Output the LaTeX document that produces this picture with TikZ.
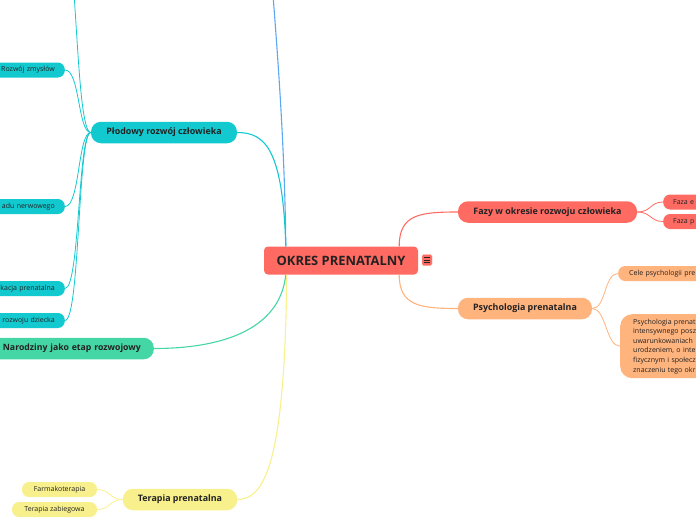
\documentclass[tikz,border=0pt]{standalone}
\usepackage{fontspec}
\setmainfont{Open Sans}
\usepackage{tikz}
\usetikzlibrary{positioning,calc}
\definecolor{rootred}{HTML}{FF6B63}
\definecolor{cyanbr}{HTML}{12C9CF}
\definecolor{bluebr}{HTML}{5AA7F2}
\definecolor{greenbr}{HTML}{45D6A6}
\definecolor{yellowbr}{HTML}{F8F08C}
\definecolor{orangebr}{HTML}{FFB37D}
\definecolor{inktext}{HTML}{222222}

\begin{document}
\begin{tikzpicture}[x=1pt, y=-1pt,
  root/.style={fill=rootred, rounded corners=4pt, minimum width=154pt, minimum height=28pt, font=\bfseries\fontsize{12.9}{14}\selectfont, text=inktext},
  branch/.style={rounded corners=10pt, minimum height=21.5pt, inner xsep=15pt, font=\bfseries\fontsize{8.9}{10}\selectfont, text=inktext},
  leaf/.style={rounded corners=7pt, minimum height=15pt, inner xsep=10pt, font=\fontsize{7}{8}\selectfont, text=inktext},
  link/.style={line width=1.1pt},
  sublink/.style={line width=0.8pt}
]
\useasboundingbox (0,0) rectangle (696,520);
\clip (0,0) rectangle (696,520);

% root and icon
\node[root] (okres) at (341,260.5) {OKRES PRENATALNY};
\node[fill=rootred, draw=rootred!60!white, rounded corners=1.5pt, minimum width=10pt, minimum height=11pt, inner sep=0pt] (menu) at (427,260) {};
\foreach \dy in {-2.5,0,2.5}
  \draw[inktext, line width=0.7pt] ($(menu.center)+(-2.8,\dy)$) -- ($(menu.center)+(2.8,\dy)$);

% main branches
\node[branch, fill=cyanbr, minimum width=146pt] (plodowy) at (164,132.5) {Płodowy rozwój człowieka};
\node[branch, fill=greenbr, anchor=east, inner xsep=13pt, text width=180pt, align=right, font=\bfseries\fontsize{8.7}{10}\selectfont] (narodziny) at (154,348.5) {Narodziny jako etap rozwojowy};
\node[branch, fill=yellowbr, minimum width=114pt] (terapia) at (180,499.5) {Terapia prenatalna};
\node[branch, fill=rootred, minimum width=179pt] (fazy) at (547.5,212) {Fazy w okresie rozwoju człowieka};
\node[branch, fill=orangebr, minimum width=134pt] (psych) at (525,308.5) {Psychologia prenatalna};
\coordinate (bluetop) at (273,-5);
\coordinate (cyantop) at (65,-60);

% leaves
\node[leaf, fill=cyanbr, anchor=east, text width=90pt, align=right] (zmysly) at (65,70) {Rozwój zmysłów};
\node[leaf, fill=cyanbr, anchor=east, text width=90pt, align=right] (nerwowy) at (65,206.5) {adu nerwowego};
\node[leaf, fill=cyanbr, anchor=east, text width=90pt, align=right] (komunikacja) at (65,288.5) {kacja prenatalna};
\node[leaf, fill=cyanbr, anchor=east, text width=90pt, align=right] (etapy) at (65,320.5) {rozwoju dziecka};
\node[leaf, fill=yellowbr, minimum width=75pt] (farmako) at (59.5,489.5) {Farmakoterapia};
\node[leaf, fill=yellowbr, minimum width=85pt] (zabieg) at (54.5,509.5) {Terapia zabiegowa};
\node[leaf, fill=rootred, anchor=west, text width=60pt, align=left] (fazae) at (663,202) {Faza e};
\node[leaf, fill=rootred, anchor=west, text width=60pt, align=left] (fazap) at (663,221.5) {Faza p};
\node[leaf, fill=orangebr, anchor=west, inner xsep=11pt, text width=90pt, align=left] (cele) at (618,273.5) {Cele psychologii pre};
\node[leaf, fill=orangebr, anchor=north west, rounded corners=12pt, inner xsep=13pt, inner ysep=4.5pt, text width=90pt, align=left, font=\fontsize{7}{9.6}\selectfont] (opis) at (620,314)
  {Psychologia prenat\\intensywnego posz\\uwarunkowaniach\\urodzeniem, o inte\\fizycznym i społecz\\znaczeniu tego okr};

% connectors from root
\draw[link, bluebr] ($(okres.north west)+(22,0)$) .. controls +(-1,-97) and +(5,65) .. (bluetop);
\draw[link, cyanbr] ($(okres.north west)+(22,0)$) .. controls +(-3,-97) and +(28,0) .. (plodowy.east);
\draw[link, greenbr] ($(okres.south west)+(22,0)$) .. controls +(-6,56) and +(66,0) .. (narodziny.east);
\draw[link, yellowbr] ($(okres.south west)+(23,0)$) .. controls +(-2,186) and +(28,0) .. (terapia.east);
\draw[link, rootred] ($(okres.north east)+(-19,0)$) .. controls +(0,-32) and +(-38,0) .. (fazy.west);
\draw[link, orangebr] ($(okres.south east)+(-19,0)$) .. controls +(0,31) and +(-38,0) .. (psych.west);

% connectors to leaves
\draw[sublink, cyanbr] (plodowy.west) .. controls +(-15,0) and +(12,0) .. (cyantop);
\foreach \leafname in {zmysly, nerwowy, komunikacja, etapy}
  \draw[sublink, cyanbr] (plodowy.west) .. controls +(-13,0) and +(15,0) .. (\leafname.east);
\foreach \leafname in {farmako, zabieg}
  \draw[sublink, yellowbr] (terapia.west) .. controls +(-13,0) and +(13,0) .. (\leafname.east);
\foreach \leafname in {fazae, fazap}
  \draw[sublink, rootred] (fazy.east) .. controls +(14,0) and +(-13,0) .. (\leafname.west);
\foreach \leafname in {cele, opis}
  \draw[sublink, orangebr] (psych.east) .. controls +(14,0) and +(-14,0) .. (\leafname.west);
\end{tikzpicture}
\end{document}
